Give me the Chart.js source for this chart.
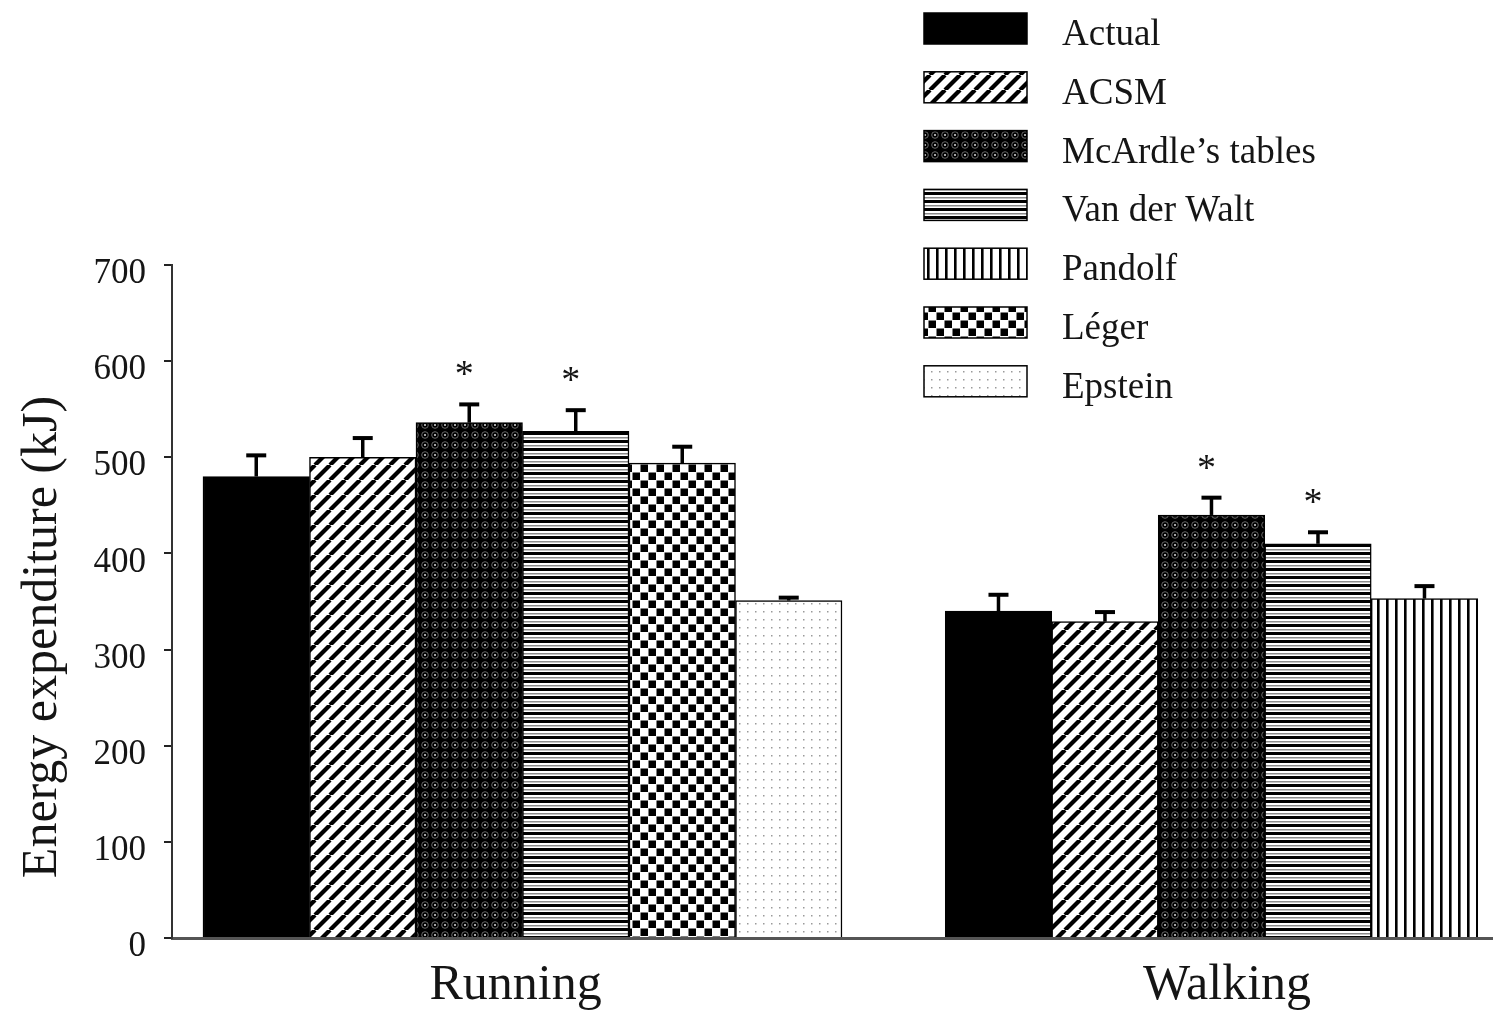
<!DOCTYPE html>
<html>
<head>
<meta charset="utf-8">
<script src="https://cdn.jsdelivr.net/npm/chart.js@4.4.1/dist/chart.umd.min.js"></script>
<style>
  html, body { margin: 0; padding: 0; background: #fff; }
  canvas { display: block; }
</style>
</head>
<body>
<canvas id="chart" width="1493" height="1011"></canvas>
<script>
const categories = ['Running', 'Walking'];
const seriesNames = ['Actual', 'ACSM', 'McArdle’s tables', 'Van der Walt', 'Pandolf', 'Léger', 'Epstein'];

// mean energy expenditure (kJ), null = not estimated for that activity
const actual = [480, 340];
const acsm = [500, 329];
const mcardle = [536, 440];
const vanDerWalt = [527, 410];
const pandolf = [null, 353];
const leger = [494, null];
const epstein = [351, null];

// upper error bars
const actualErr = [22, 17];
const acsmErr = [20, 10];
const mcardleErr = [19, 18];
const vanDerWaltErr = [22, 12];
const pandolfErr = [null, 13];
const legerErr = [17, null];
const epsteinErr = [3, null];

// * = different from actual
const mcardleSig = [true, true];
const vanDerWaltSig = [true, true];
const noSig = [false, false];

const yTicks = [0, 100, 200, 300, 400, 500, 600, 700];

const FONT = 'Liberation Serif';
const TEXT = '#151515';

const canvas = document.getElementById('chart');
const ctx = canvas.getContext('2d');

const makePattern = (w, h, draw) => {
  const c = document.createElement('canvas');
  c.width = w;
  c.height = h;
  const g = c.getContext('2d');
  g.fillStyle = '#fff';
  g.fillRect(0, 0, w, h);
  draw(g, w, h);
  return ctx.createPattern(c, 'repeat');
};

const diagonal = makePattern(15, 15, (g, s) => {
  g.strokeStyle = '#000';
  g.lineWidth = 4.2;
  for (let k = -1; k <= 1; k++) {
    g.beginPath();
    g.moveTo(k * s, s);
    g.lineTo(k * s + s, 0);
    g.stroke();
  }
});

const denseDots = makePattern(10, 10, (g) => {
  g.fillStyle = '#000';
  g.fillRect(0, 0, 10, 10);
  g.strokeStyle = '#6a6a6a';
  g.lineWidth = 1;
  g.beginPath();
  g.arc(5, 5, 3.3, 0, Math.PI * 2);
  g.stroke();
  g.fillStyle = '#fff';
  g.fillRect(4.2, 4.2, 1.6, 1.6);
});

const horizontal = makePattern(8, 8, (g) => {
  g.fillStyle = '#000';
  g.fillRect(0, 0, 8, 3);
  g.fillStyle = '#8a8a8a';
  g.fillRect(0, 5, 8, 1.5);
});

const vertical = makePattern(9, 8, (g) => {
  g.fillStyle = '#000';
  g.fillRect(0, 0, 2.6, 8);
});

const checker = makePattern(16, 16, (g) => {
  g.fillStyle = '#000';
  g.fillRect(0.5, 0.5, 7.5, 7.5);
  g.fillRect(8.5, 8.5, 7.5, 7.5);
});

const sparseDots = makePattern(8, 8, (g) => {
  g.fillStyle = '#9a9a9a';
  g.fillRect(3, 3, 1.5, 1.5);
});

const series = [
  { values: actual, err: actualErr, sig: noSig, fill: '#000' },
  { values: acsm, err: acsmErr, sig: noSig, fill: diagonal },
  { values: mcardle, err: mcardleErr, sig: mcardleSig, fill: denseDots },
  { values: vanDerWalt, err: vanDerWaltErr, sig: vanDerWaltSig, fill: horizontal },
  { values: pandolf, err: pandolfErr, sig: noSig, fill: vertical },
  { values: leger, err: legerErr, sig: noSig, fill: checker },
  { values: epstein, err: epsteinErr, sig: noSig, fill: sparseDots },
];

const datasets = series.map((s, i) => ({
  label: seriesNames[i],
  data: categories.map((c, j) => ({ x: j + 1, y: s.values[j] })),
  backgroundColor: s.fill,
  borderColor: '#000',
  borderWidth: 1.5,
  errors: s.err,
  sig: s.sig,
}));

const errorBars = {
  id: 'errorBars',
  afterDatasetsDraw(chart) {
    const g = chart.ctx;
    const yScale = chart.scales.y;
    g.save();
    g.strokeStyle = '#000';
    g.fillStyle = TEXT;
    chart.data.datasets.forEach((ds, i) => {
      const meta = chart.getDatasetMeta(i);
      ds.data.forEach((pt, j) => {
        if (pt.y === null || ds.errors[j] === null) return;
        const bar = meta.data[j];
        const capY = yScale.getPixelForValue(pt.y + ds.errors[j]);
        g.lineWidth = 3.5;
        g.beginPath();
        g.moveTo(bar.x, bar.y);
        g.lineTo(bar.x, capY);
        g.stroke();
        g.lineWidth = 4;
        g.beginPath();
        g.moveTo(bar.x - 10, capY);
        g.lineTo(bar.x + 10, capY);
        g.stroke();
        if (ds.sig[j]) {
          g.font = `38px "${FONT}"`;
          g.textAlign = 'center';
          g.textBaseline = 'alphabetic';
          g.fillText('*', bar.x - 5, capY - 18);
        }
      });
    });
    g.restore();
  },
};

const legendAndTitle = {
  id: 'legendAndTitle',
  afterDraw(chart) {
    const g = chart.ctx;
    g.save();
    chart.data.datasets.forEach((ds, i) => {
      const top = 13 + i * 58.8;
      g.fillStyle = ds.backgroundColor;
      g.fillRect(924, top, 103, 31);
      g.strokeStyle = '#000';
      g.lineWidth = 1.5;
      g.strokeRect(924, top, 103, 31);
      g.fillStyle = TEXT;
      g.font = `37px "${FONT}"`;
      g.textAlign = 'left';
      g.textBaseline = 'alphabetic';
      g.fillText(ds.label, 1062, top + 32);
    });
    // y axis title
    g.translate(56, 637);
    g.rotate(-Math.PI / 2);
    g.fillStyle = TEXT;
    g.font = `50px "${FONT}"`;
    g.textAlign = 'center';
    g.textBaseline = 'alphabetic';
    g.fillText('Energy expenditure (kJ)', 0, 0);
    g.restore();
  },
};

Chart.defaults.font.family = FONT;

new Chart(ctx, {
  type: 'bar',
  data: { datasets },
  options: {
    responsive: false,
    animation: false,
    layout: { padding: { top: 265, right: 0, bottom: 0, left: 0 } },
    datasets: { bar: { skipNull: true, barThickness: 106.5, grouped: true } },
    plugins: {
      legend: { display: false },
      tooltip: { enabled: false },
    },
    scales: {
      x: {
        type: 'linear',
        min: 0.4913,
        max: 2.4086,
        offset: false,
        afterBuildTicks: (scale) => {
          scale.ticks = [0.99, 2.0225].map((v) => ({ value: v }));
        },
        afterFit: (scale) => {
          scale.height = 73;
        },
        grid: { display: false },
        border: { display: true, color: '#555', width: 3 },
        ticks: {
          autoSkip: false,
          maxRotation: 0,
          padding: 10,
          color: TEXT,
          font: { size: 50 },
          callback: (value, index) => categories[index],
        },
      },
      y: {
        min: 0,
        max: 700,
        afterBuildTicks: (scale) => {
          scale.ticks = yTicks.map((v) => ({ value: v }));
        },
        afterFit: (scale) => {
          scale.width = 172;
        },
        grid: {
          display: true,
          drawOnChartArea: false,
          drawTicks: true,
          tickLength: 8,
          color: '#222',
          lineWidth: 2,
        },
        border: { display: true, color: '#333', width: 2 },
        ticks: {
          padding: 18,
          labelOffset: 9,
          color: TEXT,
          font: { size: 35 },
        },
      },
    },
  },
  plugins: [errorBars, legendAndTitle],
});
</script>
</body>
</html>
